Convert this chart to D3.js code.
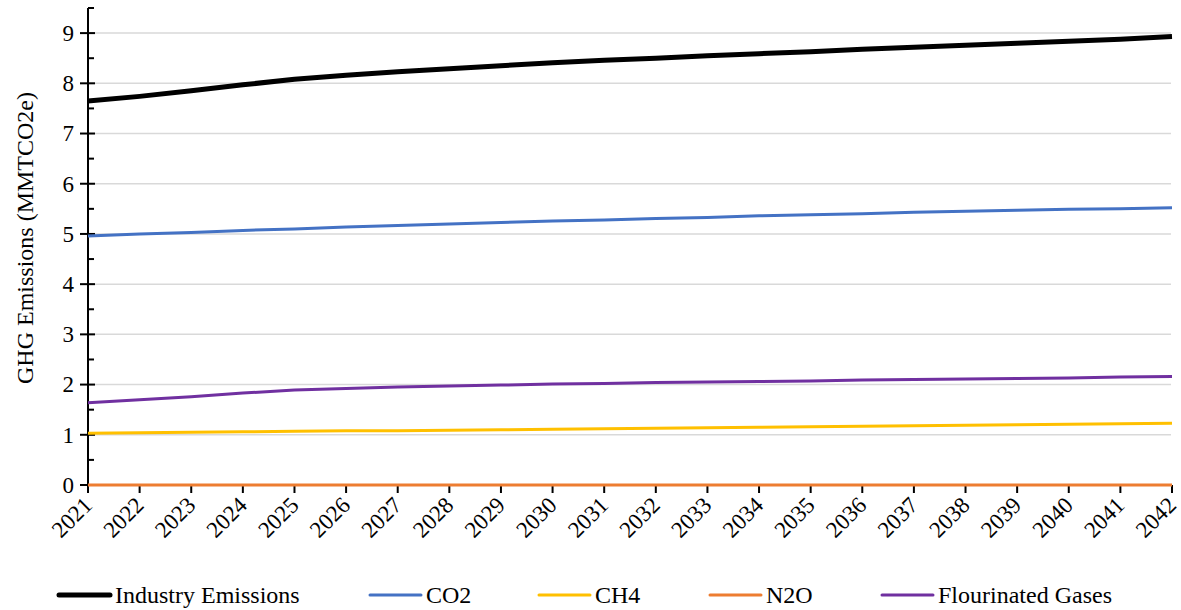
<!DOCTYPE html>
<html><head><meta charset="utf-8">
<script src="https://cdn.jsdelivr.net/npm/d3@7"></script>
<style>body{margin:0;background:#fff}svg{display:block}text{font-family:"Liberation Serif","Times New Roman","DejaVu Serif",serif}</style>
</head><body>
<svg id="c" width="1181" height="610"></svg>
<script>
const years = d3.range(2021, 2043);
const industry = [7.65,7.74,7.85,7.97,8.08,8.16,8.23,8.29,8.35,8.41,8.46,8.50,8.55,8.59,8.63,8.68,8.72,8.76,8.80,8.84,8.88,8.93];
const co2 = [4.96,5.00,5.03,5.07,5.10,5.14,5.17,5.20,5.23,5.26,5.28,5.31,5.33,5.36,5.38,5.40,5.43,5.45,5.47,5.49,5.50,5.52];
const ch4 = [1.03,1.04,1.05,1.06,1.07,1.08,1.08,1.09,1.10,1.11,1.12,1.13,1.14,1.15,1.16,1.17,1.18,1.19,1.20,1.21,1.22,1.23];
const n2o = [0,0,0,0,0,0,0,0,0,0,0,0,0,0,0,0,0,0,0,0,0,0];
const fgas = [1.64,1.70,1.76,1.83,1.89,1.92,1.95,1.97,1.99,2.01,2.02,2.04,2.05,2.06,2.07,2.09,2.10,2.11,2.12,2.13,2.15,2.16];
const seriesNames = ["Industry Emissions","CO2","CH4","N2O","Flourinated Gases"];
const yTicks = [0,1,2,3,4,5,6,7,8,9];
const yLabel = "GHG Emissions (MMTCO2e)";

const series = [
  {name: seriesNames[0], values: industry, color: "#000000", w: 5},
  {name: seriesNames[1], values: co2, color: "#4472C4", w: 3},
  {name: seriesNames[2], values: ch4, color: "#FFC000", w: 3},
  {name: seriesNames[3], values: n2o, color: "#ED7D31", w: 3},
  {name: seriesNames[4], values: fgas, color: "#7030A0", w: 3}
];
const FF = "'Liberation Serif','Times New Roman','DejaVu Serif',serif";

const svg = d3.select("#c");
const x = d3.scaleLinear().domain([2021, 2042]).range([88, 1172]);
const y = d3.scaleLinear().domain([0, 9.5]).range([485, 8]);

// gridlines
svg.append("g").selectAll("line").data(yTicks.filter(d => d > 0)).join("line")
  .attr("x1", 88).attr("x2", 1171).attr("y1", d => y(d)).attr("y2", d => y(d))
  .attr("stroke", "#d9d9d9").attr("stroke-width", 1.5);

// y axis
const yAxisG = svg.append("g");
yAxisG.append("line").attr("x1", 88).attr("x2", 88).attr("y1", y(9.5)).attr("y2", y(0))
  .attr("stroke", "#000").attr("stroke-width", 2);
yAxisG.selectAll("line.maj").data(yTicks).join("line").attr("class","maj")
  .attr("x1", 80).attr("x2", 95).attr("y1", d => y(d)).attr("y2", d => y(d))
  .attr("stroke", "#000").attr("stroke-width", 2);
yAxisG.selectAll("line.min").data(yTicks.map(d => d + 0.5)).join("line").attr("class","min")
  .attr("x1", 88).attr("x2", 94).attr("y1", d => y(d)).attr("y2", d => y(d))
  .attr("stroke", "#000").attr("stroke-width", 2);
yAxisG.selectAll("text").data(yTicks).join("text")
  .attr("x", 74).attr("y", d => y(d)).attr("dy", "0.34em").attr("text-anchor", "end")
  .attr("font-family", FF).attr("font-size", 23).text(d => d);

// x axis
const xAxisG = svg.append("g");
xAxisG.append("line").attr("x1", 88).attr("x2", 1172).attr("y1", y(0)).attr("y2", y(0))
  .attr("stroke", "#000").attr("stroke-width", 2);
xAxisG.selectAll("line.t").data(years).join("line").attr("class","t")
  .attr("x1", d => x(d)).attr("x2", d => x(d)).attr("y1", y(0)).attr("y2", y(0) + 8)
  .attr("stroke", "#000").attr("stroke-width", 2);
xAxisG.selectAll("text").data(years).join("text")
  .attr("transform", d => `translate(${x(d)},${y(0) + 16}) rotate(-45)`)
  .attr("text-anchor", "end").attr("dy", "0.34em")
  .attr("font-family", FF).attr("font-size", 23).text(d => d);

// y label
svg.append("text").attr("transform", "translate(33,238) rotate(-90)")
  .attr("text-anchor", "middle").attr("font-family", FF).attr("font-size", 24).text(yLabel);

// lines
const line = d3.line().x((d, i) => x(years[i])).y(d => y(d));
svg.append("g").selectAll("path").data(series.slice().reverse()).join("path")
  .attr("d", d => line(d.values)).attr("fill", "none")
  .attr("stroke", d => d.color).attr("stroke-width", d => d.w).attr("stroke-linejoin", "round");

// legend
const legX = [57, 368, 537, 708, 880];
const lg = svg.append("g").selectAll("g").data(series).join("g")
  .attr("transform", (d, i) => `translate(${legX[i]},595)`);
lg.append("line").attr("x1", 2).attr("x2", 53).attr("y1", 0).attr("y2", 0)
  .attr("stroke", d => d.color).attr("stroke-width", d => d.w).attr("stroke-linecap", "round");
lg.append("text").attr("x", 58).attr("dy", "0.34em").attr("font-family", FF).attr("font-size", 24).text(d => d.name);
</script>
</body></html>
